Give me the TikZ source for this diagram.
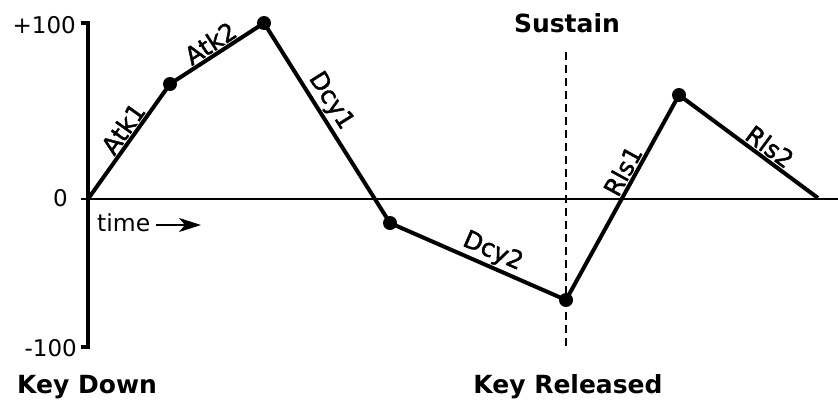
\documentclass[tikz,border=0pt]{standalone}
\usepackage{fontspec}
\setmainfont{DejaVu Sans}
\newfontfamily\semib[FakeBold=1.8]{DejaVu Sans}
\usetikzlibrary{arrows.meta}
\begin{document}
\begin{tikzpicture}[x=1pt,y=-1pt,
  env/.style={line width=4pt, line join=round},
  dot/.style={circle, fill=black, inner sep=0pt, minimum size=14pt},
  seglabel/.style={font=\semib\fontsize{24.5}{26}\selectfont, sloped, above, inner sep=1.2pt},
  axlabel/.style={font=\fontsize{23}{25}\selectfont, anchor=base east, inner sep=0pt},
  boldlabel/.style={font=\bfseries\fontsize{25}{27}\selectfont, inner sep=0pt, anchor=base}]
\useasboundingbox (0,0) rectangle (838,402);
% axes
\coordinate (ytop) at (88,21);
\coordinate (ybot) at (88,349);
\coordinate (zl) at (81,199);
\coordinate (zr) at (838,199);
\draw[line width=1.7pt] (zl) -- (zr);
\draw[line width=3.6pt] (ytop) -- (ybot);
\draw[line width=3.6pt] (81,22.8) -- (89.8,22.8);
\draw[line width=3.6pt] (81,347.2) -- (89.8,347.2);
\node[axlabel] (lp) at (76,33) {+100};
\node[axlabel] (lz) at (68,206) {0};
\node[axlabel] (lm) at (77,356) {-100};
% sustain line
\coordinate (st) at (566,52);
\coordinate (sb) at (566,348);
\draw[line width=1.4pt, dash pattern=on 8pt off 5pt] (st) -- (sb);
\node[boldlabel] (sus) at (567,32) {Sustain};
\node[boldlabel, anchor=base west] (kd) at (17,393) {Key Down};
\node[boldlabel] (kr) at (568,393) {Key Released};
% time
\node[font=\fontsize{23.5}{25}\selectfont, anchor=base west, inner sep=0pt] (time) at (97,231) {time};
\coordinate (ta) at (156,225);
\coordinate (tb) at (201,225);
\draw[line width=1.9pt, -{Stealth[length=22pt,width=14pt,inset=6pt]}] (ta) -- (tb);
% envelope
\coordinate (p0) at (88,199);
\coordinate (p1) at (170,84);
\coordinate (p2) at (264,23);
\coordinate (p3) at (390,223);
\coordinate (p4) at (566,300);
\coordinate (p5) at (679,95);
\coordinate (p6) at (818,198);
\draw[env] (p0) -- node[seglabel, pos=0.55] {Atk1} (p1)
  -- node[seglabel, pos=0.5] {Atk2} (p2)
  -- node[seglabel, pos=0.43] {Dcy1} (p3)
  -- node[seglabel, pos=0.55] {Dcy2} (p4)
  -- node[seglabel, pos=0.6] {Rls1} (p5)
  -- node[seglabel, pos=0.6] {Rls2} (p6);
\foreach \p in {p1,p2,p3,p4,p5} \node[dot] at (\p) {};
\end{tikzpicture}
\end{document}
